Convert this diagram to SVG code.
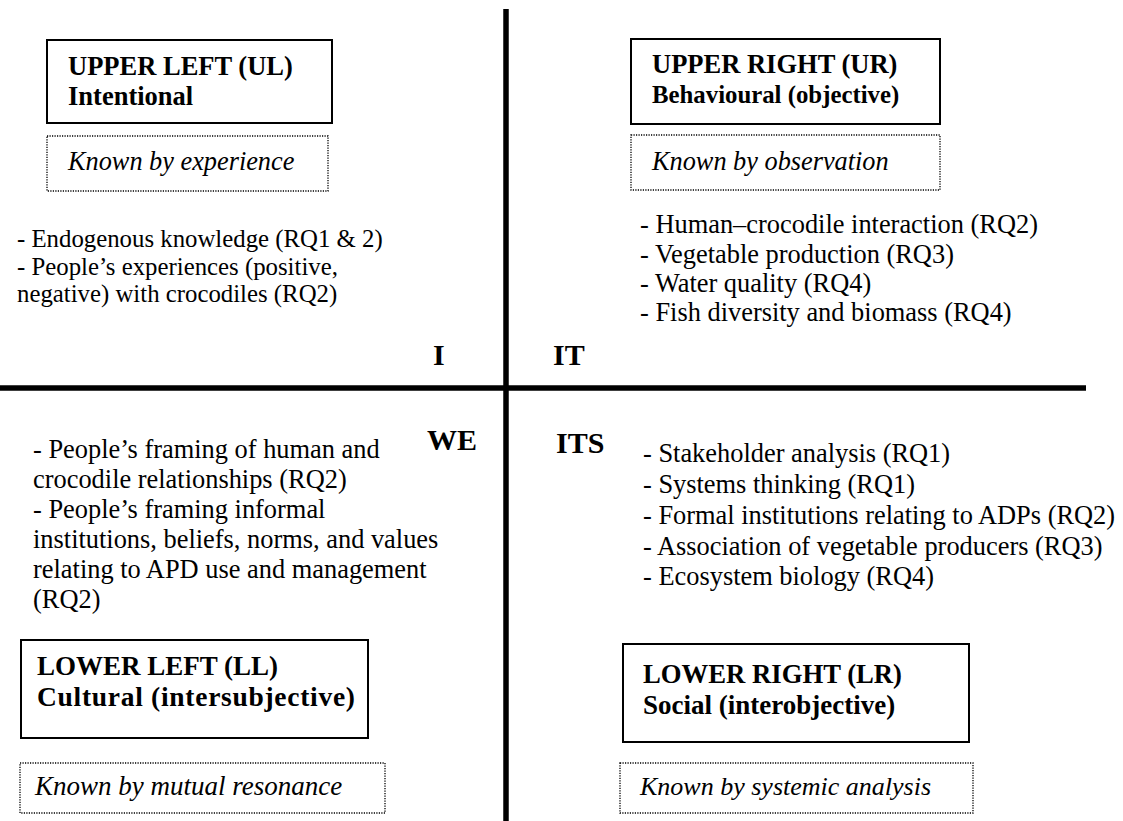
<svg xmlns="http://www.w3.org/2000/svg" width="1123" height="821" viewBox="0 0 1123 821" font-family="Liberation Serif, serif">
  <style>
    text { fill: #000; }
    .head { font-weight: bold; font-size: 26.5px; }
    .quad { font-weight: bold; font-size: 30px; }
    .known { font-style: italic; font-size: 26.3px; }
    .item { font-size: 26.4px; }
    .box { fill: #fff; stroke: #000; stroke-width: 2; }
    .dot { fill: #fff; stroke: #000; stroke-width: 1.3; stroke-dasharray: 1.2 1.3; }
    .axis { stroke: #000; stroke-width: 5.5; }
  </style>
  <rect width="1123" height="821" fill="#fff"/>

  <!-- quadrant axes -->
  <g id="axes">
    <line class="axis" x1="506" y1="9" x2="506" y2="821"/>
    <line class="axis" x1="0" y1="388" x2="1086" y2="388"/>
  </g>

  <!-- upper left quadrant -->
  <g id="ul-title">
    <rect class="box" x="47" y="40" width="285" height="83"/>
    <text class="head" x="68" y="75">UPPER LEFT (UL)</text>
    <text class="head" x="68" y="105">Intentional</text>
  </g>
  <g id="ul-known">
    <rect class="dot" x="47" y="136" width="281" height="55"/>
    <text class="known" x="68" y="170">Known by experience</text>
  </g>
  <g id="ul-items" style="font-size:24.8px">
    <text x="17" y="247">- Endogenous knowledge (RQ1 &amp; 2)</text>
    <text x="17" y="275">- People’s experiences (positive,</text>
    <text x="17" y="302">negative) with crocodiles (RQ2)</text>
  </g>

  <!-- upper right quadrant -->
  <g id="ur-title">
    <rect class="box" x="631" y="39" width="309" height="85"/>
    <text class="head" x="652" y="73">UPPER RIGHT (UR)</text>
    <text class="head" x="652" y="103" style="font-size:24.8px">Behavioural (objective)</text>
  </g>
  <g id="ur-known">
    <rect class="dot" x="631" y="135" width="309" height="55"/>
    <text class="known" x="652" y="170">Known by observation</text>
  </g>
  <g id="ur-items">
    <text class="item" x="640" y="233">- Human–crocodile interaction (RQ2)</text>
    <text class="item" x="640" y="263">- Vegetable production (RQ3)</text>
    <text class="item" x="640" y="292">- Water quality (RQ4)</text>
    <text class="item" x="640" y="321">- Fish diversity and biomass (RQ4)</text>
  </g>

  <!-- quadrant labels -->
  <g id="label-i"><text class="quad" x="433" y="365">I</text></g>
  <g id="label-it"><text class="quad" x="553" y="365">IT</text></g>
  <g id="label-we"><text class="quad" x="427" y="450">WE</text></g>
  <g id="label-its"><text class="quad" x="556" y="453">ITS</text></g>

  <!-- lower left quadrant -->
  <g id="ll-items">
    <text class="item" x="33" y="458">- People’s framing of human and</text>
    <text class="item" x="33" y="488">crocodile relationships (RQ2)</text>
    <text class="item" x="33" y="518">- People’s framing informal</text>
    <text class="item" x="33" y="548">institutions, beliefs, norms, and values</text>
    <text class="item" x="33" y="578">relating to APD use and management</text>
    <text class="item" x="33" y="608">(RQ2)</text>
  </g>
  <g id="ll-title">
    <rect class="box" x="21" y="640" width="347" height="98"/>
    <text class="head" x="37" y="675" style="font-size:27px">LOWER LEFT (LL)</text>
    <text class="head" x="37" y="706" style="font-size:27.5px" textLength="318" lengthAdjust="spacing">Cultural (intersubjective)</text>
  </g>
  <g id="ll-known">
    <rect class="dot" x="20" y="763" width="365" height="50"/>
    <text class="known" x="35" y="795" style="font-size:27px">Known by mutual resonance</text>
  </g>

  <!-- lower right quadrant -->
  <g id="lr-items">
    <text class="item" x="643" y="462">- Stakeholder analysis (RQ1)</text>
    <text class="item" x="643" y="493">- Systems thinking (RQ1)</text>
    <text class="item" x="643" y="524">- Formal institutions relating to ADPs (RQ2)</text>
    <text class="item" x="643" y="555">- Association of vegetable producers (RQ3)</text>
    <text class="item" x="643" y="585">- Ecosystem biology (RQ4)</text>
  </g>
  <g id="lr-title">
    <rect class="box" x="623" y="644" width="346" height="98"/>
    <text class="head" x="643" y="683" style="font-size:26.7px">LOWER RIGHT (LR)</text>
    <text class="head" x="643" y="714" style="font-size:27px">Social (interobjective)</text>
  </g>
  <g id="lr-known">
    <rect class="dot" x="620" y="763" width="353" height="50"/>
    <text class="known" x="640" y="795" style="font-size:26px">Known by systemic analysis</text>
  </g>
</svg>
